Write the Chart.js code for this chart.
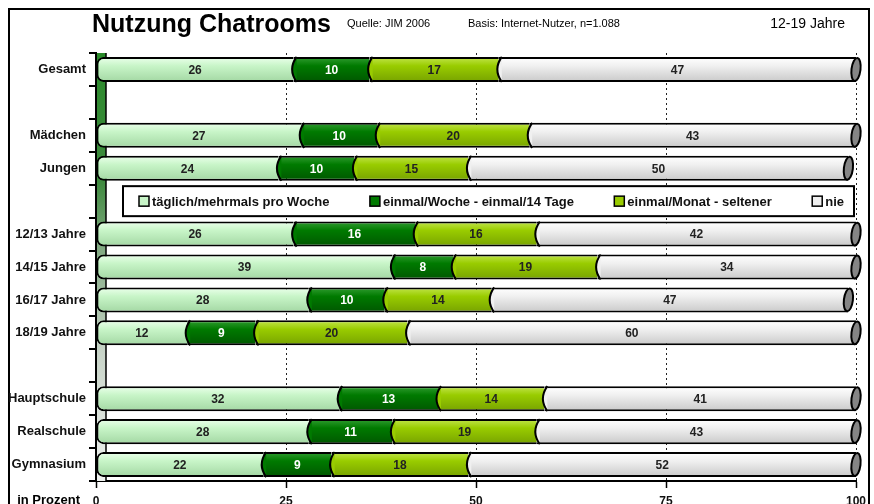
<!DOCTYPE html>
<html>
<head>
<meta charset="utf-8">
<script src="https://cdn.jsdelivr.net/npm/chart.js@4/dist/chart.umd.min.js"></script>
<style>
    html, body { margin: 0; padding: 0; background: #fff; }
    #wrap { width: 874px; height: 504px; }
</style>
</head>
<body>
<div id="wrap"><canvas id="chart" width="874" height="504"></canvas></div>
<script>
// data (blank rows are spacers, row 4 holds the legend)
const categories = ['Gesamt', '', 'Mädchen', 'Jungen', '', '12/13 Jahre', '14/15 Jahre', '16/17 Jahre', '18/19 Jahre', '', 'Hauptschule', 'Realschule', 'Gymnasium'];
const seriesNames = ['täglich/mehrmals pro Woche', 'einmal/Woche - einmal/14 Tage', 'einmal/Monat - seltener', 'nie'];
const taeglich     = [26, null, 27, 24, null, 26, 39, 28, 12, null, 32, 28, 22];
const woechentlich = [10, null, 10, 10, null, 16,  8, 10,  9, null, 13, 11,  9];
const monatlich    = [17, null, 20, 15, null, 16, 19, 14, 20, null, 14, 19, 18];
const nie          = [47, null, 43, 50, null, 42, 34, 47, 60, null, 41, 43, 52];
const xTicks = [0, 25, 50, 75, 100];
const legendRow = 4;

const FONT = "'Liberation Sans', Arial, sans-serif";
const colors = [
    ['#eaffea', '#c8f5c8', '#a4d8a4'],
    ['#2f9c2f', '#007a00', '#005800'],
    ['#c0e448', '#99cc00', '#78a400'],
    ['#ffffff', '#f0f0f0', '#cacaca']
];
const labelColors = ['#222', '#fff', '#222', '#222'];

function cylinder(stops) {
    return (c) => {
        const ys = c.chart.scales.y;
        if (c.type !== 'data' || !ys) return stops[1];
        const yc = ys.getPixelForValue(c.dataIndex);
        if (!isFinite(yc)) return stops[1];
        const g = c.chart.ctx.createLinearGradient(0, yc - 12, 0, yc + 12);
        g.addColorStop(0, stops[0]);
        g.addColorStop(0.35, stops[1]);
        g.addColorStop(1, stops[2]);
        return g;
    };
}

const seriesData = [taeglich, woechentlich, monatlich, nie];
const datasets = seriesData.map((d, i) => ({
    label: seriesNames[i],
    data: d,
    backgroundColor: cylinder(colors[i]),
    borderColor: '#000',
    borderSkipped: false,
    borderWidth: i === 0 ? { left: 2, top: 2, bottom: 2, right: 0 } : { left: 0, top: 2, bottom: 2, right: 0 },
    borderRadius: i === 0 ? { topLeft: 7, bottomLeft: 7, topRight: 0, bottomRight: 0 } : 0,
    barPercentage: 0.76,
    categoryPercentage: 1
}));

const decor = {
    id: 'decor',
    beforeDraw(chart) {
        const ctx = chart.ctx;
        ctx.save();
        ctx.strokeStyle = '#000';
        ctx.lineWidth = 2;
        ctx.strokeRect(9, 9, 860, 520);
        ctx.fillStyle = '#000';
        ctx.textBaseline = 'alphabetic';
        ctx.font = 'bold 25px ' + FONT;
        ctx.fillText('Nutzung Chatrooms', 92, 32);
        ctx.font = '11px ' + FONT;
        ctx.fillText('Quelle: JIM 2006', 347, 27);
        ctx.fillText('Basis: Internet-Nutzer, n=1.088', 468, 27);
        ctx.font = '14px ' + FONT;
        ctx.textAlign = 'right';
        ctx.fillText('12-19 Jahre', 845, 28);
        ctx.font = 'bold 13px ' + FONT;
        ctx.fillText('in Prozent', 80, 504);
        ctx.restore();
    },
    beforeDatasetsDraw(chart) {
        // left side wall of the 3D look
        const { ctx, chartArea: a } = chart;
        ctx.save();
        const g = ctx.createLinearGradient(0, a.top, 0, a.bottom);
        g.addColorStop(0, '#2a8a2a');
        g.addColorStop(0.3, '#3f8a3f');
        g.addColorStop(0.45, '#80a880');
        g.addColorStop(0.7, '#c8d4c8');
        g.addColorStop(1, '#f0f2f0');
        ctx.fillStyle = g;
        ctx.fillRect(a.left + 1, a.top, 9, a.bottom - a.top);
        ctx.strokeStyle = '#000';
        ctx.lineWidth = 1.5;
        ctx.beginPath();
        ctx.moveTo(a.left + 10, a.top);
        ctx.lineTo(a.left + 10, a.bottom);
        ctx.stroke();
        ctx.restore();
    },
    afterDatasetsDraw(chart) {
        const { ctx, chartArea: a } = chart;
        ctx.save();
        // curved joints between segments and the end caps
        chart.data.datasets.forEach((ds, di) => {
            const meta = chart.getDatasetMeta(di);
            meta.data.forEach((el, i) => {
                if (ds.data[i] == null) return;
                const p = el.getProps(['x', 'y', 'base', 'height'], true);
                const top = p.y - p.height / 2, bot = p.y + p.height / 2;
                if (di > 0) {
                    ctx.beginPath();
                    ctx.moveTo(p.base + 3, top);
                    ctx.quadraticCurveTo(p.base - 6, p.y, p.base + 3, bot);
                    ctx.closePath();
                    ctx.fillStyle = colors[di][1];
                    ctx.fill();
                    ctx.beginPath();
                    ctx.moveTo(p.base + 3, top);
                    ctx.quadraticCurveTo(p.base - 6, p.y, p.base + 3, bot);
                    ctx.strokeStyle = '#000';
                    ctx.lineWidth = 2;
                    ctx.stroke();
                }
                if (di === chart.data.datasets.length - 1) {
                    const ex = Math.min(p.x, a.right);
                    ctx.beginPath();
                    ctx.ellipse(ex, p.y, 4.5, p.height / 2 - 1, 0.12, 0, Math.PI * 2);
                    ctx.fillStyle = '#858585';
                    ctx.fill();
                    ctx.strokeStyle = '#000';
                    ctx.lineWidth = 2;
                    ctx.stroke();
                }
            });
        });
        // value labels
        ctx.font = 'bold 12px ' + FONT;
        ctx.textAlign = 'center';
        ctx.textBaseline = 'middle';
        chart.data.datasets.forEach((ds, di) => {
            chart.getDatasetMeta(di).data.forEach((el, i) => {
                const v = ds.data[i];
                if (v == null) return;
                const p = el.getProps(['x', 'y', 'base'], true);
                ctx.fillStyle = labelColors[di];
                ctx.fillText(String(v), (Math.min(p.x, a.right) + p.base) / 2, p.y + 1);
            });
        });
        // legend box sitting in its own row
        const yc = chart.scales.y.getPixelForValue(legendRow);
        const left = a.left + 27, right = a.right - 2;
        ctx.fillStyle = '#fff';
        ctx.fillRect(left, yc - 15, right - left, 30);
        ctx.strokeStyle = '#000';
        ctx.lineWidth = 2;
        ctx.strokeRect(left, yc - 15, right - left, 30);
        ctx.font = 'bold 13px ' + FONT;
        ctx.textAlign = 'left';
        const box = 10, gapIn = 3;
        const widths = seriesNames.map(n => box + gapIn + ctx.measureText(n).width);
        const total = widths.reduce((s, w) => s + w, 0);
        const padL = 16, padR = 10;
        const gap = (right - left - padL - padR - total) / (seriesNames.length - 1);
        let x = left + padL;
        seriesNames.forEach((n, i) => {
            ctx.fillStyle = colors[i][1];
            ctx.fillRect(x, yc - 5, box, box);
            ctx.lineWidth = 1.5;
            ctx.strokeStyle = '#000';
            ctx.strokeRect(x, yc - 5, box, box);
            ctx.fillStyle = '#111';
            ctx.fillText(n, x + box + gapIn, yc + 1);
            x += widths[i] + gap;
        });
        ctx.restore();
    }
};

new Chart(document.getElementById('chart'), {
    type: 'bar',
    data: { labels: categories, datasets: datasets },
    options: {
        indexAxis: 'y',
        responsive: false,
        animation: false,
        devicePixelRatio: 1,
        layout: { padding: { top: 53, right: 18, left: 0, bottom: 0 } },
        plugins: { legend: { display: false }, tooltip: { enabled: false } },
        scales: {
            x: {
                stacked: true,
                min: 0,
                max: 100,
                afterBuildTicks: (s) => { s.ticks = xTicks.map(v => ({ value: v })); },
                afterFit: (s) => { s.height = 23; },
                ticks: { color: '#111', font: { family: FONT, size: 12, weight: 'bold' }, padding: 6, maxRotation: 0 },
                grid: {
                    color: (c) => (c.tick && c.tick.value === 0) ? 'rgba(0,0,0,0)' : '#222',
                    lineWidth: 1,
                    tickColor: '#000',
                    tickLength: 7,
                    tickWidth: 1.5
                },
                border: { display: true, color: '#000', width: 2, dash: [2, 3] }
            },
            y: {
                stacked: true,
                afterFit: (s) => { s.width = 96; },
                ticks: { color: '#111', font: { family: FONT, size: 13, weight: 'bold' }, padding: 3, autoSkip: false },
                grid: { drawOnChartArea: false, tickLength: 7, color: '#000', lineWidth: 2 },
                border: { display: true, color: '#000', width: 2 }
            }
        }
    },
    plugins: [decor]
});
</script>
</body>
</html>
